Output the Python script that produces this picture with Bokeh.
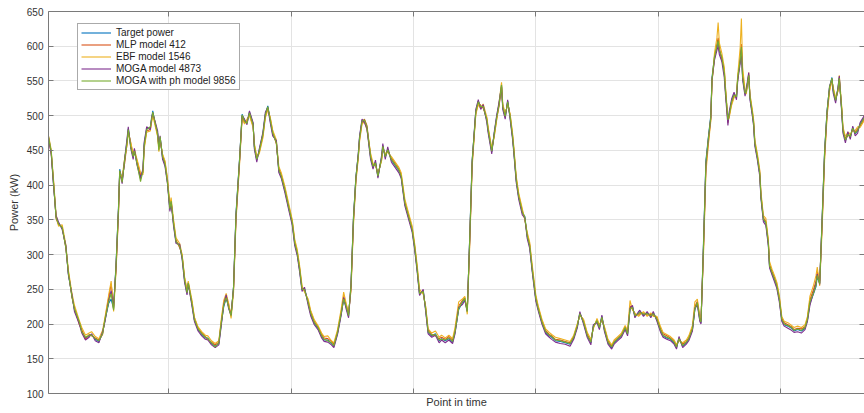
from bokeh.plotting import figure
from bokeh.models import (LinearAxis, FixedTicker, Range1d, Legend, LegendItem,
                          ColumnDataSource, CustomLabelingPolicy)
from bokeh.embed import file_html
from bokeh.resources import INLINE

# ---- data ----
time_points = [
    1, 2, 4, 6, 8, 10, 13, 16, 18, 21,
    23, 27, 29, 32, 35, 37, 40, 43, 46, 48,
    51, 53, 55, 57, 59, 60, 62, 64, 66, 67,
    69, 71, 72, 74, 77, 79, 80, 82, 85, 86,
    87, 89, 91, 92, 93, 95, 97, 99, 101, 102,
    104, 106, 109, 111, 113, 115, 116, 119, 121, 124,
    127, 130, 132, 135, 138, 141, 143, 145, 147, 149,
    151, 153, 155, 158, 160, 162, 164, 166, 169, 170,
    172, 174, 177, 179, 181, 183, 185, 188, 190, 192,
    195, 198, 201, 203, 205, 207, 209, 211, 214, 216,
    219, 222, 225, 227, 230, 233, 235, 238, 241, 243,
    245, 247, 249, 251, 253, 255, 256, 258, 260, 262,
    265, 267, 269, 271, 274, 275, 277, 279, 282, 284,
    288, 290, 293, 296, 299, 301, 303, 305, 308, 310,
    312, 315, 318, 321, 323, 326, 329, 332, 334, 337,
    340, 342, 344, 346, 348, 350, 351, 353, 355, 357,
    360, 361, 364, 366, 368, 370, 372, 373, 375, 377,
    379, 381, 382, 384, 386, 389, 391, 393, 395, 397,
    400, 402, 405, 408, 411, 413, 416, 420, 424, 428,
    431, 434, 436, 439, 442, 445, 447, 450, 452, 454,
    456, 459, 462, 464, 467, 470, 473, 475, 477, 479,
    481, 484, 485, 488, 491, 494, 496, 499, 502, 504,
    507, 510, 513, 515, 517, 520, 523, 525, 528, 530,
    532, 534, 535, 537, 539, 541, 543, 544, 546, 548,
    549, 550, 552, 554, 555, 557, 558, 560, 562, 564,
    565, 567, 568, 569, 571, 572, 574, 575, 577, 578,
    579, 581, 583, 584, 586, 588, 590, 591, 593, 595,
    597, 599, 601, 603, 606, 609, 611, 614, 617, 620,
    622, 624, 627, 629, 630, 632, 634, 636, 638, 640,
    642, 643, 645, 647, 648, 650, 651, 653, 655, 657,
    659, 661, 663, 665, 669,
]

target_power = [
    478, 468, 448, 400, 354, 345, 338, 311, 273, 240,
    221, 202, 190, 180, 183, 185, 178, 175, 187, 206,
    230, 236, 222, 287, 369, 423, 406, 435, 464, 481,
    457, 440, 450, 433, 412, 421, 459, 481, 483, 495,
    507, 488, 474, 452, 469, 440, 430, 405, 365, 378,
    344, 318, 313, 296, 263, 244, 260, 229, 206, 192,
    185, 180, 180, 172, 168, 172, 201, 225, 237, 225,
    211, 254, 359, 440, 502, 493, 490, 505, 488, 455,
    436, 450, 474, 502, 514, 493, 474, 462, 421, 412,
    392, 368, 345, 316, 302, 278, 249, 251, 230, 215,
    201, 194, 182, 177, 177, 172, 168, 187, 215, 235,
    225, 211, 258, 354, 412, 445, 469, 493, 493, 483,
    440, 426, 433, 412, 440, 457, 440, 452, 436, 431,
    421, 412, 373, 354, 335, 310, 279, 243, 248, 221,
    188, 183, 186, 176, 179, 176, 179, 174, 188, 221,
    231, 236, 217, 326, 436, 483, 507, 521, 512, 514,
    493, 479, 448, 474, 498, 517, 545, 512, 498, 521,
    498, 469, 450, 407, 383, 360, 355, 326, 312, 279,
    236, 221, 202, 188, 183, 181, 176, 175, 173, 171,
    180, 197, 216, 202, 183, 173, 197, 204, 194, 211,
    192, 173, 166, 173, 178, 183, 194, 185, 221, 225,
    211, 216, 218, 213, 216, 211, 216, 206, 190, 183,
    180, 178, 173, 166, 180, 168, 173, 178, 192, 221,
    230, 206, 202, 316, 435, 469, 500, 555, 585, 598,
    607, 593, 583, 564, 536, 493, 502, 521, 531, 526,
    555, 579, 598, 555, 531, 536, 559, 526, 502, 488,
    459, 440, 416, 383, 350, 345, 316, 283, 273, 264,
    254, 235, 206, 199, 197, 194, 190, 192, 190, 194,
    206, 230, 244, 254, 268, 259, 354, 450, 507, 540,
    555, 536, 521, 540, 555, 507, 478, 464, 474, 469,
    483, 474, 478, 488, 500,
]

mlp_412 = [
    475, 466, 446, 403, 352, 343, 340, 309, 276, 238,
    224, 199, 192, 178, 185, 183, 180, 177, 185, 208,
    238, 258, 226, 280, 362, 420, 409, 431, 460, 478,
    460, 443, 447, 436, 415, 418, 455, 478, 480, 492,
    503, 490, 471, 455, 466, 443, 433, 408, 368, 375,
    347, 321, 310, 299, 266, 247, 257, 232, 209, 194,
    187, 182, 178, 174, 170, 174, 204, 230, 240, 228,
    214, 250, 352, 436, 499, 490, 493, 502, 485, 458,
    439, 447, 471, 499, 511, 496, 477, 459, 424, 415,
    395, 371, 348, 319, 305, 281, 252, 248, 233, 218,
    204, 196, 185, 180, 179, 175, 171, 189, 218, 240,
    228, 214, 252, 348, 408, 442, 466, 490, 495, 486,
    443, 429, 430, 415, 437, 454, 443, 449, 439, 434,
    424, 415, 376, 357, 338, 313, 282, 246, 245, 224,
    191, 185, 183, 179, 181, 178, 182, 177, 191, 226,
    234, 238, 220, 318, 430, 480, 504, 518, 515, 511,
    496, 482, 451, 471, 495, 514, 541, 515, 501, 518,
    501, 472, 453, 410, 386, 363, 352, 329, 315, 282,
    239, 224, 205, 191, 185, 183, 178, 177, 175, 173,
    182, 199, 214, 205, 186, 175, 195, 206, 197, 208,
    195, 176, 168, 175, 180, 185, 196, 188, 226, 222,
    214, 213, 215, 216, 213, 214, 213, 209, 193, 186,
    183, 180, 175, 169, 178, 171, 175, 180, 195, 225,
    233, 209, 205, 305, 425, 462, 495, 550, 582, 603,
    612, 598, 580, 567, 539, 490, 499, 518, 528, 529,
    552, 583, 603, 560, 534, 533, 556, 529, 505, 491,
    462, 443, 419, 386, 353, 348, 319, 286, 276, 267,
    257, 238, 209, 202, 199, 196, 192, 194, 193, 196,
    209, 235, 250, 262, 276, 262, 345, 442, 502, 537,
    552, 539, 524, 537, 552, 510, 481, 467, 471, 472,
    480, 477, 481, 485, 497,
]

ebf_1546 = [
    472, 470, 451, 406, 358, 341, 343, 314, 278, 244,
    227, 205, 195, 184, 187, 189, 182, 179, 191, 210,
    242, 262, 218, 276, 358, 415, 412, 438, 458, 476,
    462, 445, 452, 438, 418, 415, 452, 476, 478, 490,
    500, 485, 470, 448, 464, 445, 435, 410, 372, 382,
    350, 324, 316, 300, 268, 250, 262, 235, 210, 196,
    189, 184, 183, 176, 172, 176, 207, 234, 244, 230,
    208, 245, 348, 432, 496, 488, 495, 500, 483, 460,
    441, 445, 468, 497, 508, 498, 479, 465, 427, 418,
    398, 374, 350, 322, 308, 284, 255, 246, 236, 220,
    206, 198, 187, 182, 183, 176, 173, 192, 222, 246,
    230, 216, 248, 342, 404, 440, 463, 488, 491, 480,
    446, 431, 428, 417, 435, 452, 446, 447, 441, 436,
    426, 418, 380, 360, 341, 316, 286, 250, 243, 226,
    193, 187, 190, 181, 184, 180, 184, 179, 195, 232,
    236, 240, 214, 312, 426, 478, 502, 516, 510, 517,
    498, 484, 453, 469, 493, 519, 548, 517, 503, 516,
    503, 475, 456, 413, 389, 366, 350, 332, 318, 286,
    242, 226, 207, 193, 188, 185, 181, 179, 177, 175,
    184, 201, 212, 207, 188, 178, 193, 208, 199, 206,
    197, 178, 170, 177, 182, 187, 198, 190, 234, 220,
    216, 211, 213, 218, 211, 216, 211, 211, 196, 188,
    185, 182, 177, 171, 176, 173, 177, 183, 198, 232,
    236, 212, 208, 298, 418, 458, 492, 548, 590, 612,
    634, 605, 590, 570, 542, 495, 497, 515, 526, 531,
    558, 598, 640, 570, 537, 531, 562, 531, 508, 494,
    465, 446, 422, 390, 356, 352, 322, 290, 279, 270,
    260, 241, 211, 204, 202, 198, 195, 197, 195, 199,
    211, 240, 256, 270, 282, 255, 338, 436, 498, 535,
    550, 541, 526, 535, 558, 513, 484, 470, 476, 474,
    478, 479, 484, 483, 495,
]

moga_4873 = [
    480, 465, 445, 397, 356, 347, 336, 313, 271, 242,
    218, 200, 187, 177, 181, 186, 176, 173, 189, 204,
    234, 248, 224, 283, 365, 419, 402, 438, 467, 484,
    453, 437, 453, 430, 409, 424, 462, 484, 480, 497,
    504, 491, 478, 455, 471, 437, 427, 402, 362, 375,
    341, 316, 315, 293, 260, 242, 258, 226, 204, 190,
    183, 178, 177, 170, 166, 170, 198, 228, 242, 222,
    213, 252, 355, 438, 500, 495, 487, 507, 490, 452,
    433, 452, 476, 505, 512, 490, 471, 464, 418, 410,
    389, 365, 342, 313, 299, 275, 247, 253, 227, 212,
    199, 192, 180, 175, 174, 170, 166, 185, 213, 238,
    222, 209, 255, 350, 410, 447, 471, 495, 490, 481,
    437, 423, 436, 410, 443, 460, 437, 455, 433, 428,
    418, 410, 370, 351, 332, 307, 276, 241, 250, 218,
    186, 181, 184, 173, 177, 173, 177, 172, 186, 224,
    228, 234, 219, 322, 433, 485, 509, 523, 509, 516,
    490, 476, 445, 476, 500, 520, 542, 509, 495, 523,
    495, 466, 447, 404, 380, 357, 353, 323, 309, 276,
    233, 219, 200, 186, 181, 178, 174, 172, 171, 168,
    178, 195, 218, 200, 181, 170, 199, 202, 192, 213,
    190, 171, 164, 171, 176, 181, 192, 183, 223, 227,
    209, 218, 220, 211, 218, 209, 218, 204, 188, 181,
    178, 176, 171, 164, 182, 166, 171, 176, 190, 223,
    228, 204, 200, 310, 430, 466, 497, 552, 580, 594,
    600, 588, 578, 555, 530, 486, 505, 524, 534, 523,
    550, 575, 595, 552, 528, 539, 562, 523, 499, 485,
    456, 437, 413, 380, 347, 342, 313, 281, 271, 261,
    251, 232, 204, 197, 194, 191, 188, 189, 187, 192,
    204, 227, 246, 258, 272, 257, 350, 446, 505, 542,
    553, 533, 518, 542, 557, 504, 475, 461, 477, 466,
    485, 471, 475, 490, 502,
]

moga_ph_9856 = [
    476, 467, 449, 401, 353, 344, 339, 310, 274, 239,
    222, 203, 189, 181, 184, 184, 179, 176, 186, 207,
    232, 244, 220, 285, 367, 421, 404, 436, 462, 480,
    455, 441, 449, 432, 405, 420, 457, 480, 484, 494,
    505, 489, 473, 450, 470, 441, 431, 404, 366, 377,
    345, 319, 312, 297, 264, 245, 259, 230, 207, 193,
    186, 181, 179, 173, 167, 173, 202, 227, 238, 224,
    212, 253, 357, 439, 501, 492, 489, 504, 487, 456,
    437, 449, 473, 501, 513, 494, 475, 461, 422, 413,
    393, 369, 346, 317, 303, 279, 250, 250, 231, 216,
    202, 195, 183, 178, 176, 173, 169, 188, 216, 236,
    226, 212, 256, 352, 411, 444, 468, 492, 494, 484,
    441, 427, 432, 413, 439, 456, 441, 451, 437, 432,
    422, 413, 374, 355, 336, 311, 280, 244, 247, 222,
    189, 184, 185, 177, 178, 177, 180, 175, 189, 222,
    232, 237, 218, 324, 435, 482, 506, 520, 513, 513,
    494, 480, 449, 473, 497, 516, 544, 513, 499, 520,
    499, 470, 451, 408, 384, 361, 354, 327, 313, 280,
    237, 222, 203, 189, 184, 182, 177, 176, 174, 172,
    181, 198, 215, 203, 184, 174, 196, 205, 195, 210,
    193, 174, 167, 174, 179, 184, 195, 186, 222, 224,
    212, 215, 217, 214, 215, 212, 215, 207, 191, 184,
    181, 179, 174, 167, 179, 169, 174, 179, 193, 222,
    231, 207, 203, 312, 432, 467, 498, 553, 584, 600,
    608, 595, 584, 562, 535, 494, 501, 520, 530, 527,
    554, 580, 599, 556, 532, 535, 558, 527, 503, 489,
    460, 441, 417, 384, 351, 346, 317, 284, 274, 265,
    255, 236, 207, 200, 198, 195, 191, 193, 191, 195,
    207, 232, 245, 256, 270, 258, 352, 448, 506, 541,
    554, 537, 522, 539, 554, 508, 479, 465, 473, 470,
    482, 475, 479, 487, 499,
]

series_names = ["Target power", "MLP model 412", "EBF model 1546",
                "MOGA model 4873", "MOGA with ph model 9856"]
series_colors = ["#0072BD", "#D95319", "#EDB120", "#7E2F8E", "#77AC30"]
x_ticks = [100, 200, 300, 400, 500, 600]
y_ticks = [100, 150, 200, 250, 300, 350, 400, 450, 500, 550, 600, 650]

FONT = "Liberation Sans"
AX_COL = "#7a7a7a"
TXT_COL = "#333333"
GRID_COL = "#e3e3e3"


def no_labels():
    # show no tick labels at all on this axis
    return CustomLabelingPolicy(code="return new Set()")


p = figure(width=864, height=413,
           x_range=Range1d(1.8, 668.6), y_range=Range1d(100, 650),
           output_backend="svg", toolbar_location=None,
           min_border_left=48, min_border_right=0,
           min_border_top=11, min_border_bottom=20)
p.outline_line_color = None
p.background_fill_color = "white"
p.border_fill_color = "white"

# bottom axis
xa = p.xaxis[0]
xa.ticker = FixedTicker(ticks=x_ticks)
xa.major_label_policy = no_labels()
xa.major_label_text_font_size = "0px"
xa.major_label_standoff = 0
xa.major_tick_in = 5
xa.major_tick_out = 0
xa.minor_tick_line_color = None
xa.axis_line_color = AX_COL
xa.major_tick_line_color = AX_COL
xa.axis_label = "Point in time"
xa.axis_label_text_font = FONT
xa.axis_label_text_font_size = "11px"
xa.axis_label_text_font_style = "normal"
xa.axis_label_text_color = TXT_COL
xa.axis_label_standoff = 2

# left axis
ya = p.yaxis[0]
ya.ticker = FixedTicker(ticks=y_ticks)
ya.major_label_text_font = FONT
ya.major_label_text_font_size = "10px"
ya.major_label_text_color = TXT_COL
ya.major_label_standoff = 5
ya.major_tick_in = 5
ya.major_tick_out = 0
ya.minor_tick_line_color = None
ya.axis_line_color = AX_COL
ya.major_tick_line_color = AX_COL
ya.axis_label = "Power (kW)"
ya.axis_label_text_font = FONT
ya.axis_label_text_font_size = "11px"
ya.axis_label_text_font_style = "normal"
ya.axis_label_text_color = TXT_COL
ya.axis_label_standoff = 4

# top axis (ticks only)
top = LinearAxis(ticker=FixedTicker(ticks=x_ticks))
top.major_label_policy = no_labels()
top.major_label_text_font_size = "0px"
top.major_label_standoff = 0
top.major_tick_in = 5
top.major_tick_out = 0
top.minor_tick_line_color = None
top.axis_line_color = AX_COL
top.major_tick_line_color = AX_COL
p.add_layout(top, "above")

# right axis (ticks only, edge lies outside the picture)
right = LinearAxis(ticker=FixedTicker(ticks=y_ticks))
right.major_label_policy = no_labels()
right.major_label_text_font_size = "0px"
right.major_label_standoff = 0
right.major_tick_in = 5
right.major_tick_out = 0
right.minor_tick_line_color = None
right.axis_line_color = None
right.major_tick_line_color = AX_COL
p.add_layout(right, "right")

p.xgrid.ticker = FixedTicker(ticks=x_ticks)
p.ygrid.ticker = FixedTicker(ticks=y_ticks)
p.xgrid.grid_line_color = GRID_COL
p.ygrid.grid_line_color = GRID_COL

src = ColumnDataSource(dict(t=time_points, target=target_power, mlp=mlp_412,
                            ebf=ebf_1546, moga=moga_4873, ph=moga_ph_9856))
cols = ["target", "mlp", "ebf", "moga", "ph"]
items = []
for col, name, color in zip(cols, series_names, series_colors):
    r = p.line("t", col, source=src, line_color=color, line_width=1.1)
    items.append(LegendItem(label=name, renderers=[r]))

legend = Legend(items=items, location=(29, 303))
legend.label_text_font = FONT
legend.label_text_font_size = "10px"
legend.label_text_color = "#222222"
legend.glyph_width = 30
legend.glyph_height = 11
legend.label_height = 11
legend.label_standoff = 5
legend.spacing = 1
legend.padding = 3
legend.margin = 0
legend.border_line_color = "#555555"
legend.border_line_width = 1
legend.background_fill_color = "white"
legend.background_fill_alpha = 1.0
p.add_layout(legend, "center")

open("out.html", "w").write(file_html(p, INLINE))
